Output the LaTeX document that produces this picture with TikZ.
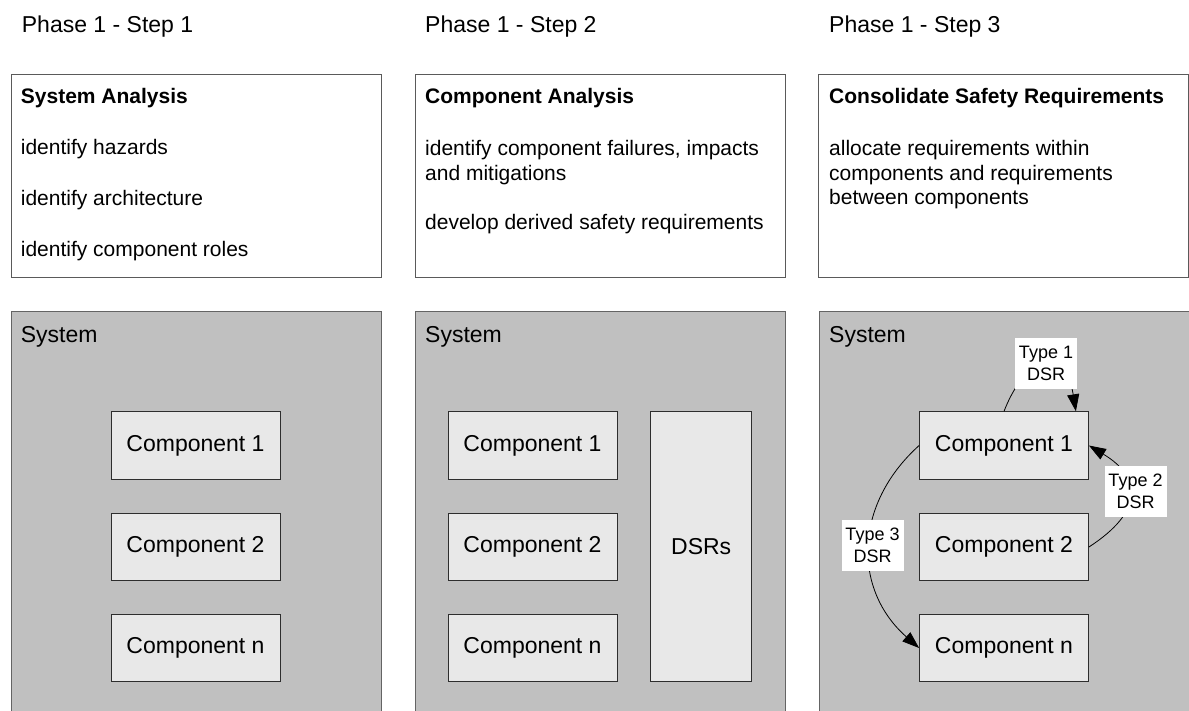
\documentclass[tikz,border=0pt]{standalone}
\usepackage{fontspec}
\setmainfont{Liberation Sans}
\usetikzlibrary{arrows.meta}
\definecolor{sysgray}{RGB}{192,192,192}
\definecolor{sysborder}{RGB}{100,100,100}
\definecolor{compfill}{RGB}{232,232,232}
\definecolor{compborder}{RGB}{45,45,45}
\definecolor{topborder}{RGB}{90,90,90}
\tikzset{
  hdr/.style={anchor=base west, inner sep=0pt, font=\fontsize{23}{27}\selectfont},
  txt/.style={anchor=base west, inner sep=0pt, font=\fontsize{21}{24.5}\selectfont},
  bold/.style={anchor=base west, inner sep=0pt, font=\fontsize{21}{24.5}\selectfont\bfseries},
  topbox/.style={draw=topborder, fill=white, line width=1pt, anchor=north west, inner sep=0pt, minimum width=370pt, minimum height=203pt},
  sysbox/.style={draw=sysborder, fill=sysgray, line width=1pt, anchor=north west, inner sep=0pt, minimum width=370pt, minimum height=420pt},
  comp/.style={draw=compborder, fill=compfill, line width=0.8pt, inner sep=0pt, minimum width=169pt, minimum height=67.6pt, font=\fontsize{23}{27}\selectfont},
  lbl/.style={fill=white, inner sep=0pt, minimum width=62pt, minimum height=51pt, align=center, font=\fontsize{18}{21.5}\selectfont},
  dsr/.style={-{Triangle[length=17pt,width=12pt]}, line width=0.8pt, black},
}
\begin{document}
\begin{tikzpicture}[x=1pt,y=-1pt]
\clip (0,0) rectangle (1189,711);
\fill[white] (0,0) rectangle (1189,711);

% headers
\node[hdr] (h1) at (21.7,32.3) {Phase 1 - Step 1};
\node[hdr] (h2) at (425,32.3) {Phase 1 - Step 2};
\node[hdr] (h3) at (829,32.3) {Phase 1 - Step 3};

% top boxes
\node[topbox] (b1) at (11,74.3) {};
\node[topbox] (b2) at (415,74.3) {};
\node[topbox] (b3) at (818.3,74.3) {};

\node[bold] (t11) at (20.7,103.3) {System Analysis};
\node[txt] (t12) at (20.7,154.3) {identify hazards};
\node[txt] (t13) at (20.7,205.5) {identify architecture};
\node[txt] (t14) at (20.7,256.5) {identify component roles};

\node[bold] (t21) at (425,103.3) {Component Analysis};
\node[txt] (t22) at (425,155.8) {identify component failures, impacts};
\node[txt] (t23) at (425,180.2) {and mitigations};
\node[txt] (t24) at (425,229.2) {develop derived safety requirements};

\node[bold] (t31) at (829,103.3) {Consolidate Safety Requirements};
\node[txt] (t32) at (829,155.8) {allocate requirements within};
\node[txt] (t33) at (829,180.2) {components and requirements};
\node[txt] (t34) at (829,204.2) {between components};

% system boxes
\node[sysbox] (s1) at (11,311) {};
\node[sysbox] (s2) at (415,311) {};
\node[sysbox] (s3) at (818.7,311) {};
\node[hdr] (sl1) at (20.7,342.3) {System};
\node[hdr] (sl2) at (425,342.3) {System};
\node[hdr] (sl3) at (829,342.3) {System};

% panel 1
\node[comp] (c11) at (195.5,445.5) {Component 1};
\node[comp] (c12) at (195.5,547) {Component 2};
\node[comp] (c1n) at (195.5,648) {Component n};

% panel 2
\node[comp] (c21) at (532.5,445.5) {Component 1};
\node[comp] (c22) at (532.5,547) {Component 2};
\node[comp] (c2n) at (532.5,648) {Component n};
\node[comp, minimum width=101pt, minimum height=270pt] (d2) at (701.2,546.7) {DSRs};

% panel 3
\node[comp] (c31) at (1004,445.5) {Component 1};
\node[comp] (c32) at (1004,547) {Component 2};
\node[comp] (c3n) at (1004,648) {Component n};

\draw[dsr] (c31.north) .. controls (1028,350) and (1066,350) .. ([xshift=-13pt]c31.north east);
\draw[dsr] (c32.east) .. controls (1143,512) and (1143,478) .. (c31.east);
\draw[dsr] (c31.west) .. controls (853,505) and (853,590) .. (c3n.west);

\node[lbl] (l1) at (1046,363.5) {Type 1\\DSR};
\node[lbl] (l2) at (1135.5,491.5) {Type 2\\DSR};
\node[lbl] (l3) at (872.5,545.5) {Type 3\\DSR};
\end{tikzpicture}
\end{document}
